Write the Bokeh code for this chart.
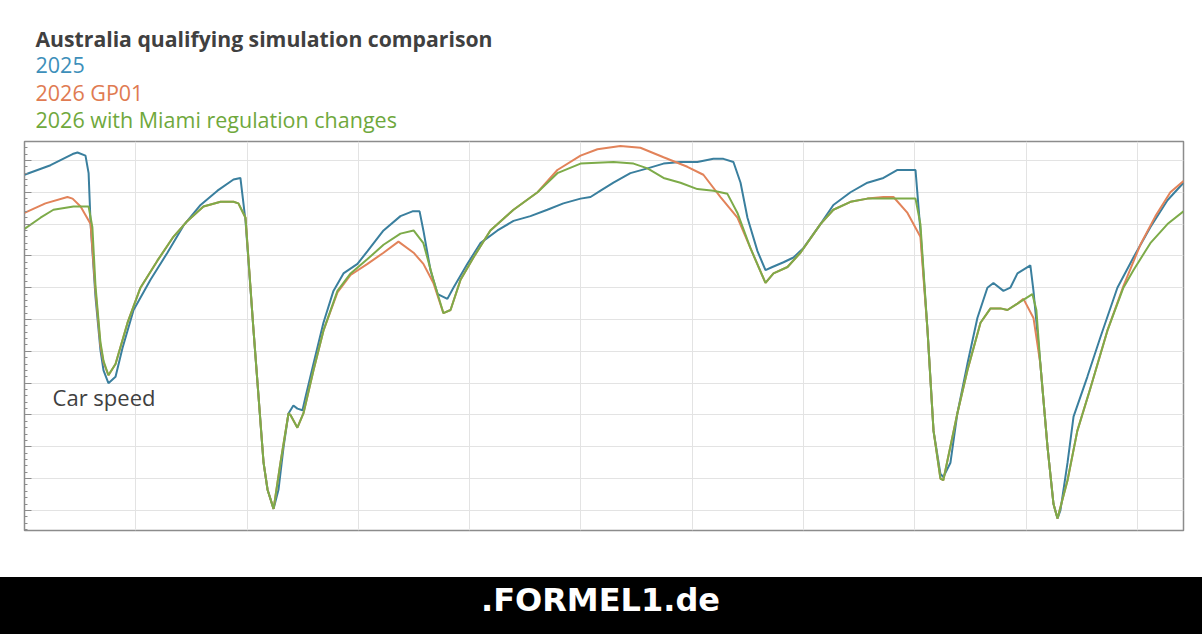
from bokeh.plotting import figure
from bokeh.models import Label, Range1d, FixedTicker
from bokeh.layouts import column
from bokeh.embed import file_html
from bokeh.resources import INLINE

# ---- data (distance in m, speed in km/h) ----
dist_2025 = [0,117,216,238,274,288,297,319,341,355,377,409,440,490,566,642,714,791,867,939,
             970,993,1029,1074,1092,1119,1141,1164,1186,1208,1226,1249,1262,1298,1343,1388,1433,1496,1541,1613,
             1689,1743,1775,1792,1824,1856,1900,1927,1990,2048,2125,2197,2273,2349,2421,2498,2543,2588,2646,2722,
             2799,2871,2947,3023,3095,3140,3185,3217,3248,3293,3329,3360,3410,3455,3500,3576,3634,3711,3787,3859,
             3922,4003,4025,4057,4084,4115,4128,4160,4191,4236,4281,4326,4353,4398,4429,4461,4519,4533,4564,4596,
             4623,4641,4654,4686,4713,4775,4834,4910,4982,5058,5135,5207]
speed_2025 = [311,317,324,325,323,312,280,234,201,188,180,184,202,226,245,262,279,292,301,308,
              309,282,213,130,113,101,113,140,161,166,164,163,171,192,218,238,249,255,263,276,
              285,288,288,276,251,236,233,240,255,268,276,282,285,289,293,296,297,301,306,312,
              315,318,319,319,321,321,319,306,284,263,251,253,256,259,265,280,292,300,306,309,
              314,314,276,213,150,123,121,130,161,192,221,240,243,238,240,249,254,238,192,140,
              104,95,100,130,159,184,209,240,259,278,295,306]

dist_gp01 = [0,94,193,216,252,297,319,341,355,377,409,463,521,597,669,732,804,881,939,961,
             993,1029,1074,1092,1119,1150,1186,1195,1226,1253,1298,1343,1406,1465,1541,1613,1680,1748,1792,1837,
             1882,1914,1959,2017,2093,2197,2305,2394,2498,2574,2677,2767,2871,2978,3050,3127,3203,3261,3329,3365,
             3428,3486,3576,3634,3711,3787,3859,3904,3967,4025,4057,4084,4115,4128,4191,4236,4295,4340,4385,4416,
             4461,4488,4533,4564,4596,4623,4641,4686,4730,4789,4865,4937,5013,5081,5148,5207]
speed_gp01 = [287,293,297,296,291,280,238,204,193,185,192,218,240,257,272,282,291,294,294,293,
              284,213,130,113,101,130,161,160,152,161,188,213,237,248,255,262,269,262,255,243,
              224,226,245,259,276,289,300,314,323,327,329,328,322,316,311,297,284,265,243,249,
              253,262,280,289,294,296,297,297,287,272,213,150,120,119,161,188,218,227,227,226,
              230,233,221,192,140,104,95,119,150,177,213,241,267,285,300,307]

dist_miami = [0,72,130,220,288,305,319,341,355,377,409,463,521,597,669,732,804,881,939,961,
              993,1029,1074,1092,1119,1150,1186,1195,1226,1253,1298,1343,1406,1465,1541,1613,1689,1748,1792,1837,
              1882,1914,1959,2017,2093,2197,2305,2394,2498,2646,2736,2799,2871,2947,3023,3095,3158,3203,3261,3329,
              3365,3428,3486,3576,3634,3711,3787,3859,4003,4025,4057,4084,4115,4128,4191,4236,4295,4340,4385,4416,
              4461,4528,4546,4564,4596,4623,4641,4686,4730,4789,4865,4937,4982,5058,5135,5207]
speed_miami = [277,284,289,291,291,278,241,206,194,185,192,218,240,257,272,282,291,294,294,293,
               284,213,130,113,101,130,161,160,152,161,188,213,238,249,258,267,274,276,268,245,
               224,226,245,259,276,289,300,312,318,319,318,315,309,306,302,301,299,287,265,243,
               249,253,262,280,289,294,296,296,296,280,213,150,120,119,161,188,218,227,227,226,
               230,236,226,192,140,104,95,119,150,177,213,240,251,268,280,288]

x_ticks = [500,1000,1500,2000,2500,3000,3500,4000,4500,5000]
y_ticks = [100,120,140,160,180,200,220,240,260,280,300,320]

title_text = "Australia qualifying simulation comparison"
series_names = ["2025", "2026 GP01", "2026 with Miami regulation changes"]
colors = ["#3a7f9e", "#e2835a", "#7dab49"]
legend_colors = ["#3d8fba", "#e07b52", "#6fa83c"]
FONT = "Open Sans"
LEFT, RIGHT = 24, 19
W = 1202

# ---- header with the title block (pixel-like coordinates, y downward) ----
head = figure(width=W, height=140, output_backend="svg", toolbar_location=None,
              x_range=Range1d(LEFT, W - RIGHT), y_range=Range1d(140, 0),
              x_axis_type=None, y_axis_type=None,
              min_border_left=LEFT, min_border_right=RIGHT, min_border_top=0, min_border_bottom=0,
              background_fill_color="white", border_fill_color="white")
head.outline_line_color = None
head.grid.visible = False
heads = [(title_text, "#404040", "bold", "21.2px", 37.5),
         (series_names[0], legend_colors[0], "normal", "21.5px", 64.5),
         (series_names[1], legend_colors[1], "normal", "21.5px", 91.5),
         (series_names[2], legend_colors[2], "normal", "21.5px", 118.5)]
for txt, col, style, size, yy in heads:
    head.add_layout(Label(x=35, y=yy, text=txt, text_color=col, text_font=FONT,
                          text_font_size=size, text_font_style=style,
                          text_baseline="alphabetic"))

# ---- main chart ----
p = figure(width=W, height=437, output_backend="svg", toolbar_location=None,
           x_range=Range1d(0, 5207), y_range=Range1d(87.4, 331.9),
           min_border_left=LEFT, min_border_right=RIGHT, min_border_top=1, min_border_bottom=47,
           background_fill_color="white", border_fill_color="white")

p.outline_line_color = "#8c8c8c"
p.outline_line_width = 1.5

p.xaxis.visible = False
p.xgrid.ticker = FixedTicker(ticks=x_ticks)
p.yaxis.ticker = FixedTicker(ticks=y_ticks, minor_ticks=[v + d for v in [80] + y_ticks for d in (4, 8, 12, 16)])
p.ygrid.ticker = FixedTicker(ticks=y_ticks)
p.grid.grid_line_color = "#e3e3e3"
p.grid.grid_line_width = 1
ax = p.yaxis[0]
ax.major_label_text_font_size = "1px"
ax.major_label_text_color = None
ax.major_label_standoff = 0
ax.major_tick_in = 7
ax.major_tick_out = 0
ax.minor_tick_in = 3
ax.minor_tick_out = 0
ax.axis_line_color = "#8c8c8c"
ax.major_tick_line_color = "#8c8c8c"
ax.minor_tick_line_color = "#8c8c8c"

p.line(dist_2025, speed_2025, line_color=colors[0], line_width=2)
p.line(dist_gp01, speed_gp01, line_color=colors[1], line_width=2)
p.line(dist_miami, speed_miami, line_color=colors[2], line_width=2)

p.add_layout(Label(x=126, y=161.8, text="Car speed", text_font=FONT,
                   text_font_size="22px", text_color="#404040"))

# ---- black footer band with the logo ----
band = figure(width=W, height=57, output_backend="svg", toolbar_location=None,
              x_range=Range1d(LEFT, W - RIGHT), y_range=Range1d(0, 57),
              x_axis_type=None, y_axis_type=None,
              min_border_left=LEFT, min_border_right=RIGHT, min_border_top=0, min_border_bottom=0,
              background_fill_color="black", border_fill_color="black",
              styles={"background-color": "black"})
band.outline_line_color = None
band.grid.visible = False
band.add_layout(Label(x=600, y=16, text=".FORMEL1.de", text_align="center", text_color="white",
                      text_font="DejaVu Sans", text_font_style="bold", text_font_size="32px"))

layout = column(head, p, band, spacing=0)
open("out.html", "w").write(file_html(layout, INLINE))
